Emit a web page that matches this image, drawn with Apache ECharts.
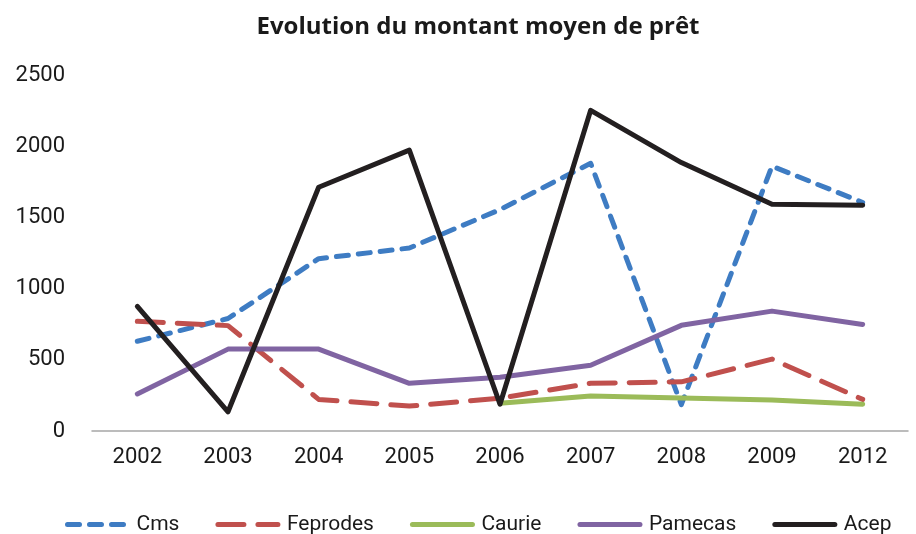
<!DOCTYPE html>
<html><head><meta charset="utf-8">
<script src="https://cdn.jsdelivr.net/npm/echarts@6/dist/echarts.min.js"></script>
<style>html,body{margin:0;padding:0;background:#fff}#c{width:916px;height:534px}</style>
</head><body><div id="c"></div>
<script>
const years = ['2002','2003','2004','2005','2006','2007','2008','2009','2012'];
const cms = [630, 790, 1210, 1285, 1555, 1880, 185, 1860, 1605];
const feprodes = [770, 740, 222, 175, 230, 335, 345, 505, 222];
const caurie = [null, null, null, null, 195, 245, 232, 218, 188];
const pamecas = [260, 575, 575, 335, 378, 462, 742, 842, 748];
const acep = [875, 135, 1712, 1972, 188, 2252, 1885, 1592, 1585];
const yTicks = [0, 500, 1000, 1500, 2000, 2500];

const font = '"Roboto", sans-serif';
function mk(name, data, color, type) {
  return {
    name, type: 'line', data, symbol: 'none', smooth: false, connectNulls: false,
    lineStyle: { color, width: 5, type, cap: 'round', join: 'round' },
    itemStyle: { color }
  };
}
const chart = echarts.init(document.getElementById('c'), null, {renderer: 'canvas'});
chart.setOption({
  animation: false,
  backgroundColor: '#ffffff',
  title: {
    text: 'Evolution du montant moyen de prêt', left: 473, top: 10, textAlign: 'center',
    textStyle: { fontFamily: '"Open Sans", sans-serif', fontWeight: 'bold', fontSize: 24, color: '#1a1a1a' }
  },
  legend: {
    top: 509, left: 60, itemWidth: 60, itemHeight: 14, itemGap: 36,
    itemStyle: { opacity: 0 },
    lineStyle: { width: 5 },
    textStyle: { fontFamily: font, fontSize: 21, color: '#1a1a1a', padding: [0, 0, 0, 4] },
    data: ['Cms', 'Feprodes', 'Caurie', 'Pamecas', 'Acep']
  },
  grid: { left: 92, right: 8, top: 75, bottom: 103, containLabel: false },
  xAxis: {
    type: 'category', data: years, boundaryGap: true,
    axisLine: { lineStyle: { color: '#a6a6a6', width: 1.5 } },
    axisTick: { show: false },
    axisLabel: { fontFamily: font, fontSize: 22, color: '#1a1a1a', margin: 15 }
  },
  yAxis: {
    type: 'value', min: yTicks[0], max: yTicks[yTicks.length - 1], interval: 500,
    axisLine: { show: false }, axisTick: { show: false }, splitLine: { show: false },
    axisLabel: { fontFamily: font, fontSize: 22, color: '#1a1a1a', margin: 27, formatter: v => String(v) }
  },
  series: [
    mk('Cms', cms, '#3e7cc3', [12, 10]),
    mk('Feprodes', feprodes, '#c0504d', [26, 14]),
    mk('Caurie', caurie, '#9bbb59', 'solid'),
    mk('Pamecas', pamecas, '#8064a2', 'solid'),
    mk('Acep', acep, '#231f20', 'solid')
  ]
});
</script></body></html>
